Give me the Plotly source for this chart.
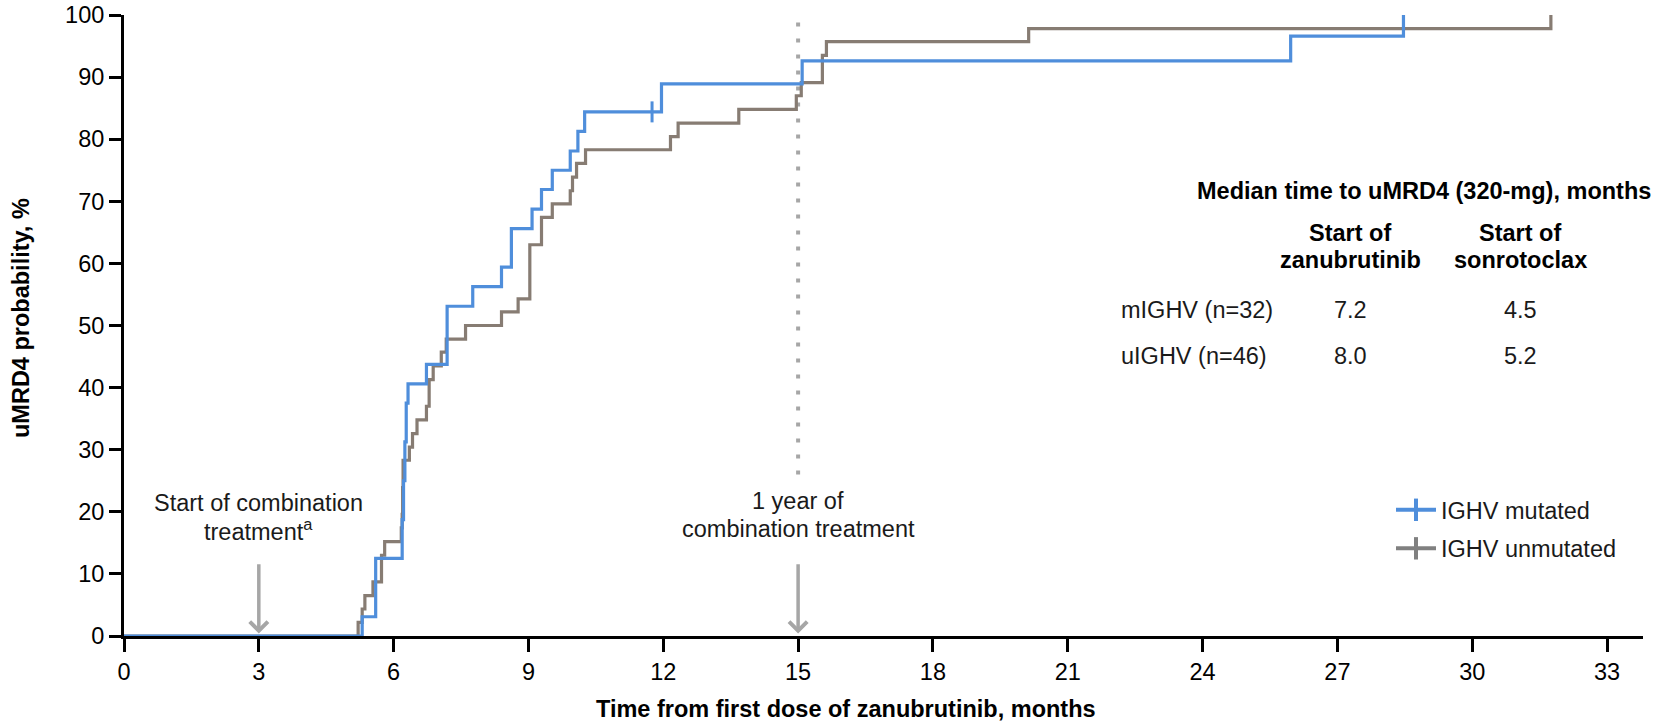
import plotly.graph_objects as go

# ---------------- data ----------------
mut_months = [0, 5.30, 5.60, 6.19, 6.22, 6.25, 6.28, 6.32, 6.73, 7.19, 7.76, 8.40, 8.62,
              9.08, 9.29, 9.53, 9.93, 10.10, 10.25, 11.96, 15.09, 25.96, 28.47]
mut_pct = [0, 3.1, 12.5, 18.75, 25.0, 31.25, 37.5, 40.6, 43.75, 53.1, 56.25, 59.4, 65.6,
           68.75, 71.9, 75.0, 78.1, 81.25, 84.4, 88.9, 92.6, 96.6, 100]
mut_censor_months = [11.75]
mut_censor_pct = [84.4]

unm_months = [0, 5.21, 5.30, 5.36, 5.54, 5.73, 5.80, 6.17, 6.19, 6.20, 6.21, 6.35, 6.42,
              6.52, 6.73, 6.79, 6.88, 7.06, 7.17, 7.60, 8.40, 8.77, 9.03, 9.29, 9.53,
              9.93, 9.98, 10.07, 10.27, 12.16, 12.33, 13.68, 14.96, 15.07, 15.54, 15.63,
              20.13, 31.75]
unm_pct = [0, 2.2, 4.35, 6.5, 8.7, 13.0, 15.2, 17.4, 19.6, 23.9, 28.3, 30.4, 32.6,
           34.8, 37.0, 41.3, 43.5, 45.7, 47.8, 50.0, 52.2, 54.3, 63.0, 67.4, 69.6,
           71.7, 73.9, 76.1, 78.3, 80.4, 82.6, 84.8, 87.0, 89.1, 93.5, 95.7,
           97.8, 100]

x_ticks = [0, 3, 6, 9, 12, 15, 18, 21, 24, 27, 30, 33]
y_ticks = [0, 10, 20, 30, 40, 50, 60, 70, 80, 90, 100]

combo_start_month = 3
one_year_month = 15
ref_line_pct = [26, 99]
arrow_pct = [11.8, 0.4]

legend_names = ["IGHV mutated", "IGHV unmutated"]

combo_label = ["Start of combination", "treatment<sup>a</sup>"]
year_label = ["1 year of", "combination treatment"]

table_title = "Median time to uMRD4 (320-mg), months"
table_cols = [["Start of", "zanubrutinib"], ["Start of", "sonrotoclax"]]
table_rows = ["mIGHV (n=32)", "uIGHV (n=46)"]
table_zanu = ["7.2", "8.0"]
table_sonro = ["4.5", "5.2"]

# ---------------- styling ----------------
BLUE = "#4F8EDB"
TAUPE = "#877C73"
LEG_GRAY = "#808080"
REF_GRAY = "#A6A6A6"
FONT = "Liberation Sans, Arial, sans-serif"
FS = 23.5
TXT = "#1a1a1a"

W, H = 1656, 724
L, R, T, B = 124, 13, 15, 88
plot_w = W - L - R
plot_h = H - T - B


def px_x(p):
    return (p - L) / plot_w


def px_y(p):
    return (H - B - p) / plot_h


fig = go.Figure()

# dotted reference line at 1 year of combination
fig.add_trace(go.Scatter(
    x=[one_year_month, one_year_month], y=ref_line_pct, mode="lines",
    line=dict(color=REF_GRAY, width=4, dash="4px,12px"),
    showlegend=False, hoverinfo="skip"))

# KM curves
fig.add_trace(go.Scatter(
    x=unm_months, y=unm_pct, mode="lines", line=dict(color=TAUPE, width=3.2, shape="hv"),
    showlegend=False))
fig.add_trace(go.Scatter(
    x=mut_months, y=mut_pct, mode="lines", line=dict(color=BLUE, width=3.2, shape="hv"),
    showlegend=False))
fig.add_trace(go.Scatter(
    x=mut_censor_months, y=mut_censor_pct, mode="markers",
    marker=dict(symbol="line-ns", size=15, line=dict(color=BLUE, width=3)),
    showlegend=False, cliponaxis=False))

# legend-only traces
for i, (name, col) in enumerate(zip(legend_names, [BLUE, LEG_GRAY])):
    fig.add_trace(go.Scatter(
        x=[None], y=[None], mode="lines+markers", name=name, legendgroup=f"g{i}",
        line=dict(color=col, width=4),
        marker=dict(symbol="line-ns", size=20, line=dict(color=col, width=4))))


def ann(x, y, text, xref="paper", yref="paper", xanchor="center", yanchor="middle", **kw):
    d = dict(x=x, y=y, xref=xref, yref=yref, text=text, showarrow=False,
             xanchor=xanchor, yanchor=yanchor,
             font=dict(size=kw.pop("size", FS), color=kw.pop("color", TXT), family=FONT))
    d.update(kw)
    return d


def ypct(p):
    # pixel row -> data percent (for text placed in data space)
    return (H - B - p) / plot_h * 100


annotations = []

# arrows
for m in [combo_start_month, one_year_month]:
    annotations.append(dict(
        x=m, y=arrow_pct[1], ax=m, ay=arrow_pct[0], xref="x", yref="y",
        axref="x", ayref="y", text="", showarrow=True, arrowhead=4,
        arrowsize=1.0, arrowwidth=3.5, arrowcolor=REF_GRAY, standoff=0))

for row, txt in zip([503, 530], combo_label):
    annotations.append(ann(combo_start_month, ypct(row), txt, xref="x", yref="y"))
for row, txt in zip([501, 529], year_label):
    annotations.append(ann(one_year_month, ypct(row), txt, xref="x", yref="y"))

# axis titles
annotations.append(ann(px_x(846), px_y(709), "<b>Time from first dose of zanubrutinib, months</b>",
                       color="#000"))
annotations.append(ann(px_x(21), px_y(318), "<b>uMRD4 probability, %</b>",
                       color="#000", textangle=-90))

# table
annotations.append(ann(px_x(1653), px_y(191), "<b>" + table_title + "</b>",
                       xanchor="right", color="#000"))
for cx, lines in zip([1350, 1520], table_cols):
    for row, txt in zip([233, 260], lines):
        annotations.append(ann(px_x(cx), px_y(row), "<b>" + txt + "</b>", color="#000"))
for ry, lab, z, s in zip([310, 356], table_rows, table_zanu, table_sonro):
    annotations.append(ann(px_x(1119), px_y(ry), lab, xanchor="left"))
    annotations.append(ann(px_x(1350), px_y(ry), z))
    annotations.append(ann(px_x(1520), px_y(ry), s))

fig.update_layout(
    width=W, height=H,
    margin=dict(l=L, r=R, t=T, b=B, pad=0, autoexpand=False),
    paper_bgcolor="white", plot_bgcolor="white",
    font=dict(family=FONT, size=FS, color="#000"),
    annotations=annotations,
    legend=dict(
        x=px_x(1391), y=px_y(488), xanchor="left", yanchor="top",
        font=dict(size=FS, color=TXT, family=FONT),
        bgcolor="rgba(0,0,0,0)", tracegroupgap=5, itemwidth=40),
    xaxis=dict(
        range=[0, 33.8], tickvals=x_ticks, ticktext=[str(v) for v in x_ticks],
        automargin=False,
        showgrid=False, zeroline=False, showline=True, linecolor="#000", linewidth=3,
        ticks="outside", ticklen=13, tickwidth=2.5, tickcolor="#000",
        tickfont=dict(size=FS, color="#000", family=FONT)),
    yaxis=dict(
        range=[0, 100], tickvals=y_ticks, ticktext=[str(v) for v in y_ticks],
        automargin=False,
        showgrid=False, zeroline=False, showline=True, linecolor="#000", linewidth=3,
        ticks="outside", ticklen=12, tickwidth=2.5, tickcolor="#000",
        tickfont=dict(size=FS, color="#000", family=FONT)),
)

fig.write_html("out.html", config={"displayModeBar": False},
               post_script="document.body.style.margin='0';")
